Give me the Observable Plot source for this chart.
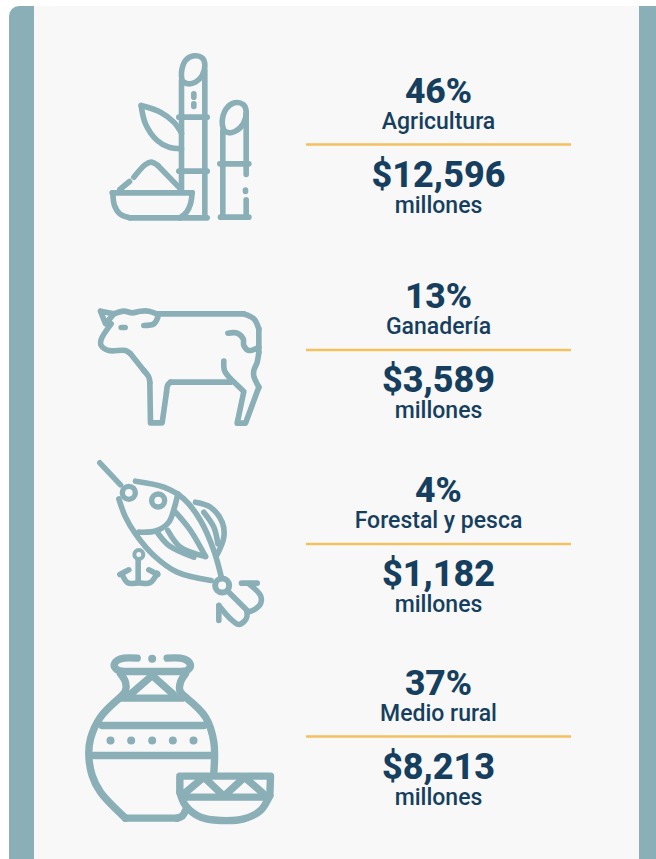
<!DOCTYPE html>
<html><head><meta charset="utf-8">
<script src="https://cdn.jsdelivr.net/npm/d3@7"></script>
<script src="https://cdn.jsdelivr.net/npm/@observablehq/plot@0.6"></script>
<style>html,body{margin:0;padding:0;background:#fff}svg{display:block}</style>
</head><body><div id="chart"></div>
<script>
// Data
const shares = [46, 13, 4, 37];
const sectors = ["Agricultura", "Ganadería", "Forestal y pesca", "Medio rural"];
const amounts = [12596, 3589, 1182, 8213];
const unit = "millones";

// Layout (divider position of each block)
const dividerY = [144, 349.5, 543.5, 736];

// Icon strokes. s = smooth, l = straight
const cane = {ox:80, oy:40, w:5.6, s:[
 [[305,122],[303,95],[315,60],[340,46],[365,52],[373,72],[365,105],[345,125],[322,130],[305,122]],
 [[430,270],[425,245],[437,205],[462,187],[488,192],[497,212],[488,250],[465,272],[445,277],[430,270]],
 [[182,195],[240,215],[280,245],[303,278]],
 [[182,195],[195,250],[230,300],[265,320],[303,325]],
 [[97,457],[102,495],[118,520],[148,532]],
 [[335,457],[330,490],[318,515],[298,532]],
 [[160,410],[195,372],[212,365],[232,375]]
], l:[
 [[303,120],[303,450]],[[373,90],[373,530]],
 [[295,230],[380,230]],[[295,392],[380,392]],
 [[340,160],[340,170]],[[340,190],[340,198]],
 [[427,270],[427,530]],[[497,220],[497,402]],[[495,449],[495,453]],[[497,478],[497,530]],
 [[418,370],[505,370]],[[420,530],[505,530]],
 [[95,457],[335,457]],[[148,532],[380,532]],
 [[118,447],[147,423]],[[232,375],[300,445]]
]};
const cow = {ox:80, oy:295, w:5.6, s:[
 [[100,55],[130,47],[155,52],[180,47],[205,47],[228,55]],
 [[232,65],[220,85],[190,90]],
 [[490,55],[520,70],[535,100]],
 [[535,170],[530,200],[520,225],[520,242],[535,275]],
 [[430,197],[432,225],[450,250]],
 [[270,260],[262,268],[258,290]],
 [[208,262],[205,245],[190,225]],
 [[150,175],[135,165],[85,165],[62,150],[62,132],[92,85]],
 [[442,113],[470,113],[488,130],[490,150],[505,165],[535,155]]
], l:[
 [[60,47],[100,55],[75,85],[60,47]],
 [[228,55],[490,55]],[[535,100],[535,170]],
 [[535,275],[495,383],[470,383],[490,288],[450,250]],
 [[270,260],[450,260]],
 [[258,290],[245,382],[210,382],[208,262]],
 [[190,225],[150,175]],
 [[122,96],[134,96]]
]};
const lure = {ox:80, oy:450, w:5.6, s:[
 [[165,92],[250,110],[310,145],[360,210],[400,300],[422,378]],
 [[115,145],[135,200],[165,250],[220,315],[290,365],[392,390]],
 [[175,245],[230,240],[265,215],[282,170],[292,130]],
 [[285,185],[330,240],[375,318]],
 [[345,155],[390,170],[425,215],[430,260],[410,312]],
 [[370,185],[400,230],[412,280]],
 [[262,240],[300,290],[375,318]],
 [[230,245],[265,285],[340,320]],
 [[125,372],[142,397],[175,397],[208,397],[230,368]],
 [[415,465],[450,505],[475,522],[497,505],[500,485]],
 [[505,400],[540,435],[540,460],[520,478],[500,485]]
], l:[
 [[58,37],[120,103]],
 [[118,372],[145,358]],[[205,358],[232,372]],
 [[173,325],[173,392]],
 [[445,425],[500,480]],
 [[415,465],[415,510]],[[483,398],[530,398]]
]};
const jar = {ox:70, oy:645, w:7.4, s:[
 [[200,38],[160,38],[140,45],[131,60],[140,73],[155,78]],
 [[290,38],[330,38],[350,45],[360,60],[352,73],[338,78]],
 [[150,85],[165,110],[165,135],[150,155]],
 [[150,155],[90,215],[60,280],[55,330],[65,390],[90,440],[165,518]],
 [[345,85],[330,110],[328,135],[345,155]],
 [[345,155],[405,215],[430,290],[430,380]],
 [[328,440],[345,480],[390,515],[450,525],[520,520],[570,495],[598,450]],
 [[320,518],[335,512],[345,495]]
], l:[
 [[155,78],[338,78]],
 [[155,158],[335,158]],
 [[178,148],[245,90],[310,148]],
 [[95,240],[400,240]],[[70,330],[425,330]],
 [[165,518],[320,518]],
 [[328,440],[328,392],[600,392],[598,450]],
 [[340,455],[590,455]],
 [[340,445],[400,395],[460,452],[522,395],[585,450]]
]};
const icons = [cane, cow, lure, jar];
const iconDots = [
 {ox:70, oy:645, r:4, pts:[[245,40],[120,285],[182,285],[245,285],[307,285],[369,285]]}
];
const iconRings = [
 {ox:80, oy:450, r:6.5, w:5.4, pts:[[233,150],[145,127]]},
 {ox:80, oy:450, r:7, w:6, pts:[[425,405]]},
 {ox:80, oy:450, r:4.5, w:4, pts:[[175,312]]}
];

// Colours
const teal = "#8aafb7", card = "#f8f8f8", ink = "#163f5f", gold = "#f3c15f";

// Build tables for the marks
const toRows = (list, tag, ic) => list.flatMap((pts, i) =>
  pts.map(([a, b]) => ({id: tag + i, x: ic.ox + a / 3, y: ic.oy + b / 3})));
const iconMarks = icons.flatMap((ic, n) => {
  const common = {x: "x", y: "y", z: "id", stroke: teal, strokeWidth: ic.w,
    strokeLinecap: "round", strokeLinejoin: "round"};
  return [
    Plot.line(toRows(ic.s, "s" + n, ic), {...common, curve: "catmull-rom"}),
    Plot.line(toRows(ic.l, "l" + n, ic), {...common, curve: "linear"})
  ];
});
const dotMarks = iconDots.map(d => Plot.dot(d.pts.map(([a, b]) => ({x: d.ox + a / 3, y: d.oy + b / 3})),
  {x: "x", y: "y", r: d.r, fill: teal}));
const ringMarks = iconRings.map(d => Plot.dot(d.pts.map(([a, b]) => ({x: d.ox + a / 3, y: d.oy + b / 3})),
  {x: "x", y: "y", r: d.r, stroke: teal, strokeWidth: d.w, fill: card}));

const blocks = shares.map((s, i) => ({
  share: s + "%", sector: sectors[i], amount: "$" + d3.format(",")(amounts[i]), unit, y: dividerY[i]
}));
const label = (field, dy, size, weight) => Plot.text(blocks, {
  x: () => 438, y: d => d.y + dy, text: field, fill: ink,
  fontFamily: "Roboto", fontSize: size, fontWeight: weight,
  textAnchor: "middle", lineAnchor: "bottom"
});

const plot = Plot.plot({
  width: 656, height: 859, margin: 0,
  x: {type: "linear", domain: [0, 656], range: [0, 656], axis: null},
  y: {type: "linear", domain: [0, 859], range: [0, 859], axis: null},
  style: {background: "#fff"},
  marks: [
    Plot.rect([{}], {x1: () => 9, x2: () => 680, y1: () => 6, y2: () => 880, fill: teal, rx: 10}),
    Plot.rect([{}], {x1: () => 34, x2: () => 639, y1: () => 6, y2: () => 859, fill: card}),
    ...iconMarks, ...dotMarks, ...ringMarks,
    Plot.ruleY(blocks, {y: "y", x1: () => 306, x2: () => 571, stroke: gold, strokeWidth: 2.4}),
    label("share", -42, 35.5, 800),
    label("sector", -16, 23, 500),
    label("amount", 42, 36, 800),
    label("unit", 68, 23, 500)
  ]
});
document.getElementById("chart").append(plot);
</script></body></html>
